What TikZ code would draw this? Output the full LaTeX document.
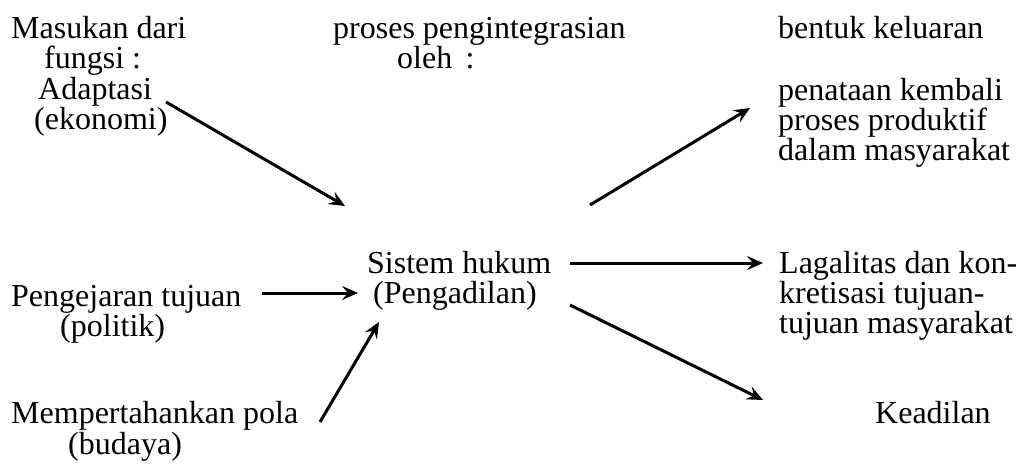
\documentclass[tikz,border=0pt]{standalone}
\usepackage{fontspec}
\setmainfont{Liberation Serif}
\usetikzlibrary{arrows.meta}
\begin{document}
\begin{tikzpicture}[x=1pt,y=-1pt,
  txt/.style={anchor=base west,inner sep=0pt,font=\fontsize{32}{31}\selectfont},
  arr/.style={line width=3pt,-{Stealth[length=16pt,width=14pt,inset=6pt]}}]
\useasboundingbox (0,0) rectangle (1021,464);
% input column
\node[txt] (in1) at (11,38) {Masukan dari};
\node[txt] (in2) at (44,68) {fungsi :};
\node[txt] (adapt) at (38,99) {Adaptasi};
\node[txt] (ekon) at (34,129) {(ekonomi)};
\node[txt] (peng) at (11,306) {Pengejaran tujuan};
\node[txt] (pol) at (60,336) {(politik)};
\node[txt] (pola) at (11,423) {Mempertahankan pola};
\node[txt] (bud) at (68,454) {(budaya)};
% integration column
\node[txt] (pr1) at (333,38) {proses pengintegrasian};
\node[txt] (pr2) at (397,68) {oleh \,:};
\node[txt] (sis) at (367,273) {Sistem hukum};
\node[txt] (pgd) at (373,303) {(Pengadilan)};
% output column
\node[txt] (out) at (778,38) {bentuk keluaran};
\node[txt] (pk1) at (778,100) {penataan kembali};
\node[txt] (pk2) at (778,130) {proses produktif};
\node[txt] (pk3) at (778,160) {dalam masyarakat};
\node[txt] (lg1) at (779,273) {Lagalitas dan kon-};
\node[txt] (lg2) at (779,303) {kretisasi tujuan-};
\node[txt] (lg3) at (779,333) {tujuan masyarakat};
\node[txt] (kead) at (875,423) {Keadilan};
% connector end points next to the texts
\coordinate (aOut) at (166,102);
\coordinate (sIn1) at (345,206);
\coordinate (pOut) at (262,293);
\coordinate (sIn2) at (358,293);
\coordinate (mOut) at (320,422);
\coordinate (sIn3) at (379,322);
\coordinate (sOut1) at (590,205);
\coordinate (pkIn) at (750,108);
\coordinate (sOut2) at (570,263);
\coordinate (lgIn) at (763,263);
\coordinate (sOut3) at (570,305);
\coordinate (kIn) at (763,400);
\draw[arr] (aOut) -- (sIn1);
\draw[arr] (pOut) -- (sIn2);
\draw[arr] (mOut) -- (sIn3);
\draw[arr] (sOut1) -- (pkIn);
\draw[arr] (sOut2) -- (lgIn);
\draw[arr] (sOut3) -- (kIn);
\end{tikzpicture}
\end{document}
